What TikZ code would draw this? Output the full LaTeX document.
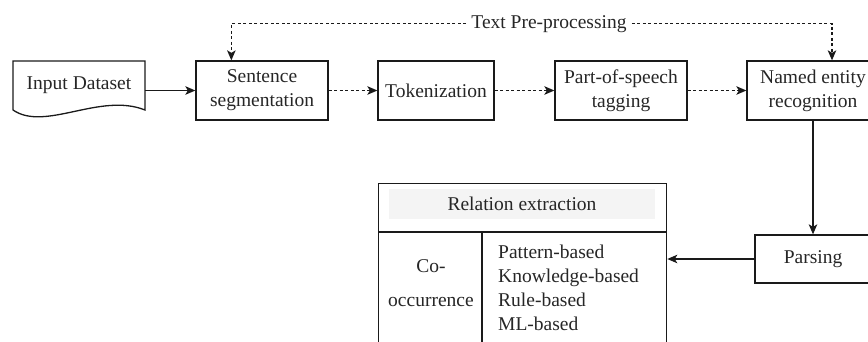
\documentclass[tikz,border=0pt]{standalone}
\usepackage{fontspec}
\setmainfont{Liberation Serif}
\usetikzlibrary{arrows.meta,calc}
\definecolor{ink}{HTML}{1A1A1A}
\definecolor{txt}{HTML}{262626}
\definecolor{headfill}{HTML}{F4F4F4}
\begin{document}
\begin{tikzpicture}[x=1pt,y=-1pt,
  every node/.style={text=txt, font=\fontsize{19.5}{24}\selectfont},
  stepbox/.style={draw=ink, line width=1.3pt, minimum height=59pt, align=center, inner sep=2pt},
  flow/.style={draw=ink, line width=1.3pt, -{Stealth[length=10pt,width=8.5pt,inset=2.5pt]}},
  dflow/.style={flow, dash pattern=on 3pt off 2.5pt}]
  \useasboundingbox (0,0) rectangle (868,341);
  \clip (0,0) rectangle (868,341);

  % input document shape with wavy bottom
  \draw[ink, line width=1.3pt] (13,110) -- (13,61) -- (145,61) -- (145,110)
    .. controls (100,92) and (45,132) .. (13,110);
  \node[minimum width=132pt, minimum height=49pt, inner sep=0pt] (input) at (79,85.5) {Input Dataset};

  % pre-processing steps
  \node[stepbox, minimum width=132pt] (sent) at (262,90.5) {Sentence\\segmentation};
  \node[stepbox, minimum width=116pt] (tok)  at (436,90.5) {Tokenization};
  \node[stepbox, minimum width=132pt] (pos)  at (621,90.5) {Part-of-speech\\tagging};
  \node[stepbox, minimum width=132pt] (ner)  at (813,90.5) {Named entity\\recognition};
  \node[stepbox, minimum width=116pt, minimum height=48pt] (parse) at (813,259) {Parsing};

  % group label above the pipeline
  \node[anchor=base, inner sep=5pt] (pre) at (549,28) {Text Pre-processing};

  % relation extraction table
  \node[draw=ink, line width=1.3pt, anchor=north west, minimum width=288pt,
        minimum height=180pt, inner sep=0pt] (rel) at (378,183) {};
  \fill[headfill] (389,189) rectangle (655,219);
  \node (relhead) at (522,204) {Relation extraction};
  \draw[ink, line width=1.3pt] (rel.west |- 0,232) -- (rel.east |- 0,232);
  \draw[ink, line width=1.3pt] (482,232) -- (482,345);
  \node[anchor=north, align=center, inner sep=0pt,
        font=\fontsize{19.5}{34}\selectfont] (cooc) at (431,259.7) {Co-\\occurrence};
  \node[anchor=north west, align=left, inner sep=0pt] (methods) at (498,244.7)
    {Pattern-based\\Knowledge-based\\Rule-based\\ML-based};

  % connectors
  \draw[flow] (input.east |- sent.west) -- (sent.west);
  \draw[dflow] (sent) -- (tok);
  \draw[dflow] (tok) -- (pos);
  \draw[dflow] (pos) -- (ner);
  \draw[dflow] (pre.west) -| ([xshift=36pt]sent.north west);
  \draw[dflow] (pre.east) -| ([xshift=19pt]ner.north);
  \draw[flow] (ner) -- (parse);
  \draw[flow] (parse.west) -- (parse.west -| rel.east);
\end{tikzpicture}
\end{document}
